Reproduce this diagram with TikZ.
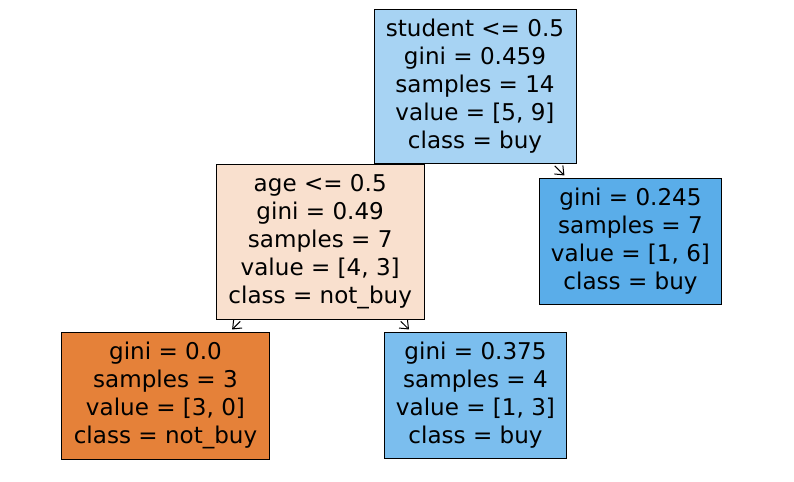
\documentclass[tikz,border=0pt]{standalone}
\usepackage{fontspec}
\setmainfont{DejaVu Sans}
\usetikzlibrary{arrows.meta,backgrounds}
\definecolor{cRoot}{RGB}{167,211,243}
\definecolor{cAge}{RGB}{249,224,206}
\definecolor{cRleaf}{RGB}{90,173,233}
\definecolor{cLleaf}{RGB}{229,129,57}
\definecolor{cMleaf}{RGB}{123,190,238}
\begin{document}
\begin{tikzpicture}[x=0.75pt,y=-0.75pt,
  treenode/.style={draw=black, line width=0.75pt, align=center, inner sep=0pt,
    font=\fontsize{17.3}{21}\selectfont},
  edge/.style={draw=black, line width=0.75pt,
    -{Straight Barb[length=5.5pt,width=9pt,line width=0.75pt]},
    shorten >=2.5pt, shorten <=2pt}]
\useasboundingbox (0,0) rectangle (794,482);
\node[treenode, fill=cRoot, minimum width=151.5pt, minimum height=115.5pt] (root) at (475,86.5)
  {student <= 0.5\\gini = 0.459\\samples = 14\\value = [5, 9]\\class = buy};
\node[treenode, fill=cAge, minimum width=155.8pt, minimum height=116pt] (age) at (320.2,241.7)
  {age <= 0.5\\gini = 0.49\\samples = 7\\value = [4, 3]\\class = not\_buy};
\node[treenode, fill=cRleaf, minimum width=136.8pt, minimum height=94.5pt] (rleaf) at (630.5,241.3)
  {gini = 0.245\\samples = 7\\value = [1, 6]\\class = buy};
\node[treenode, fill=cLleaf, minimum width=156.3pt, minimum height=95.25pt] (lleaf) at (165.5,395.8)
  {gini = 0.0\\samples = 3\\value = [3, 0]\\class = not\_buy};
\node[treenode, fill=cMleaf, minimum width=136.8pt, minimum height=94.5pt] (mleaf) at (475.5,395.3)
  {gini = 0.375\\samples = 4\\value = [1, 3]\\class = buy};
\begin{scope}[on background layer]
  \draw[edge, shorten >=0pt, shorten <=0pt] (root) -- (age);
  \draw[edge] (root) -- (rleaf);
  \draw[edge] (age) -- (lleaf);
  \draw[edge] (age) -- (mleaf);
\end{scope}
\end{tikzpicture}
\end{document}
